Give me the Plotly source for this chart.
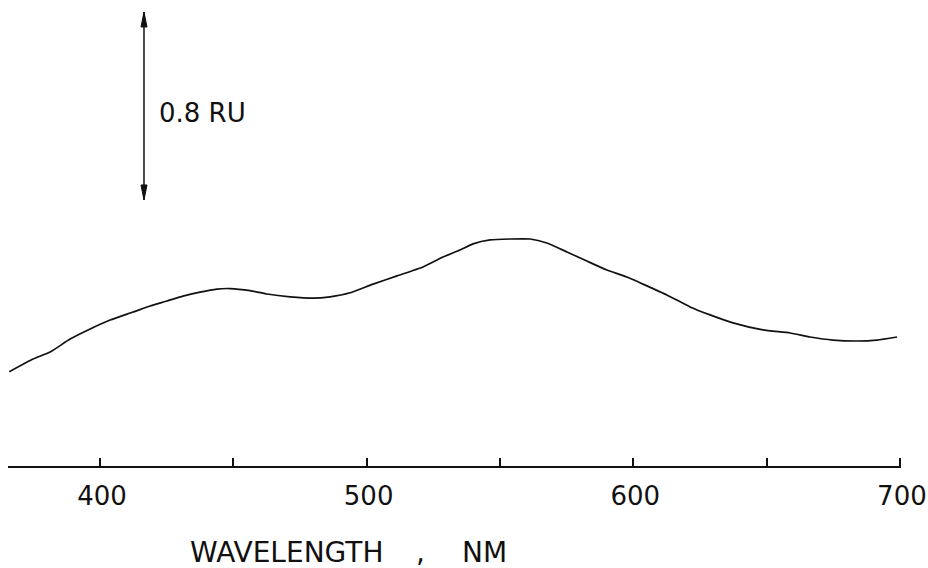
import plotly.graph_objects as go

# Spectrum (wavelength in nm, response in RU)
wavelength_nm = [366.0, 374.9, 381.3, 388.8, 396.3, 403.8, 412.4, 418.8, 425.1, 431.1,
                 437.5, 443.9, 448.8, 456.3, 462.6, 471.3, 479.9, 486.3, 493.8, 502.4,
                 511.4, 521.1, 528.6, 535.0, 539.9, 546.3, 553.8, 561.3, 567.6, 575.1,
                 582.6, 590.1, 597.6, 603.6, 612.6, 621.3, 628.8, 637.4, 648.6, 658.8,
                 666.3, 674.9, 683.9, 691.4, 698.9]
response_ru = [0.401, 0.455, 0.485, 0.540, 0.583, 0.621, 0.655, 0.681, 0.702, 0.723,
               0.740, 0.753, 0.755, 0.746, 0.732, 0.720, 0.714, 0.720, 0.737, 0.774,
               0.809, 0.847, 0.889, 0.919, 0.945, 0.962, 0.966, 0.966, 0.949, 0.911,
               0.872, 0.834, 0.804, 0.774, 0.728, 0.677, 0.643, 0.609, 0.579, 0.566,
               0.549, 0.536, 0.532, 0.536, 0.549]

tick_values = [400, 450, 500, 550, 600, 650, 700]
tick_labels = ["400", "", "500", "", "600", "", "700"]

scale_bar_x = 416.5
scale_bar_bottom = 1.132
scale_bar_length = 0.8
scale_bar_label = "0.8 RU"
x_title_parts = ["WAVELENGTH", ",", "NM"]

FONT = "DejaVu Sans, sans-serif"
INK = "#111111"

fig = go.Figure()
fig.add_trace(go.Scatter(
    x=wavelength_nm, y=response_ru, mode="lines",
    line=dict(color=INK, width=1.7, shape="spline", smoothing=0.5),
    showlegend=False, hoverinfo="skip",
))

# scale bar: vertical line with narrow arrowheads at both ends
top = scale_bar_bottom + scale_bar_length
fig.add_shape(type="line", xref="x", yref="y",
              x0=scale_bar_x, x1=scale_bar_x, y0=scale_bar_bottom, y1=top,
              line=dict(color=INK, width=1.5))
fig.add_shape(type="path", xref="x", yref="y",
              xsizemode="pixel", ysizemode="pixel",
              xanchor=scale_bar_x, yanchor=top,
              path="M0,0 L-3,-15 L3,-15 Z",
              fillcolor=INK, line=dict(color=INK, width=1))
fig.add_shape(type="path", xref="x", yref="y",
              xsizemode="pixel", ysizemode="pixel",
              xanchor=scale_bar_x, yanchor=scale_bar_bottom,
              path="M0,0 L-3,15 L3,15 Z",
              fillcolor=INK, line=dict(color=INK, width=1))
fig.add_annotation(
    x=421.4, y=scale_bar_bottom + scale_bar_length / 2 - 0.03,
    xref="x", yref="y", text=scale_bar_label, showarrow=False,
    xanchor="left", yanchor="middle",
    font=dict(family=FONT, size=26, color=INK),
)

# x axis title pieces
title_x = [0.2018, 0.4543, 0.5067]
for txt, px in zip(x_title_parts, title_x):
    fig.add_annotation(
        x=px, y=-0.1866, xref="paper", yref="paper", text=txt,
        showarrow=False, xanchor="left", yanchor="middle",
        font=dict(family=FONT, size=28, color=INK),
    )

fig.update_layout(
    width=928, height=568,
    margin=dict(l=8, r=27, t=5, b=102, autoexpand=False),
    paper_bgcolor="white", plot_bgcolor="white",
    xaxis=dict(
        range=[365.5, 700.4], showgrid=False, zeroline=False, automargin=False,
        showline=True, linecolor=INK, linewidth=1.5,
        ticks="inside", ticklen=8, tickwidth=1.5, tickcolor=INK,
        tickvals=tick_values, ticktext=tick_labels,
        tickfont=dict(family=FONT, size=26, color=INK),
        ticklabelstandoff=6, ticklabelshift=2,
        ticklabeloverflow="allow",
    ),
    yaxis=dict(range=[0, 1.9617], visible=False, showgrid=False, zeroline=False,
               automargin=False),
)

fig.write_html(
    "out.html",
    config={"displayModeBar": False},
    post_script="document.body.style.margin='0';document.body.style.overflow='hidden';",
)
